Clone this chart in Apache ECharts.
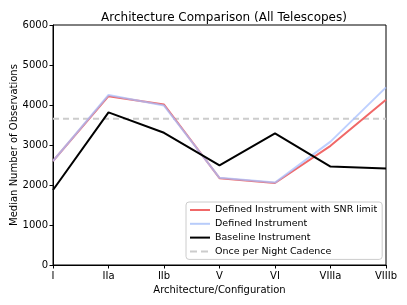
<!DOCTYPE html>
<html><head><meta charset="utf-8">
<script src="https://cdn.jsdelivr.net/npm/echarts@6/dist/echarts.min.js"></script>
<style>html,body{margin:0;padding:0;background:#fff}#c{width:407px;height:305px}</style>
</head><body><div id="c"></div>
<script>
const categories = ['I','IIa','IIb','V','VI','VIIIa','VIIIb'];
const snrLimited = [2600, 4220, 4010, 2170, 2050, 2980, 4130];
const defined = [2600, 4250, 3985, 2180, 2060, 3085, 4440];
const baseline = [1875, 3815, 3305, 2490, 3290, 2460, 2410];
const oncePerNight = 3655;
const yTicks = [0, 1000, 2000, 3000, 4000, 5000, 6000];
const names = ['Defined Instrument with SNR limit','Defined Instrument','Baseline Instrument','Once per Night Cadence'];

const font = 'DejaVu Sans';
const solidIcon = 'path://M0,0L20,0L20,2L0,2Z';
const dashIcon = 'path://M0,0L7,0L7,2L0,2Z M11,0L18,0L18,2L11,2Z M20,0L20,2L20,2Z';
const chart = echarts.init(document.getElementById('c'), null, {renderer:'canvas'});
chart.setOption({
  animation:false,
  title:{text:'Architecture Comparison (All Telescopes)', left:219, top:7, textAlign:'center',
    textStyle:{fontFamily:font, fontSize:12, fontWeight:'normal', color:'#000'}},
  grid:{left:53, right:21, top:25, bottom:40, show:true, borderColor:'#000', borderWidth:1,
    containLabel:false, outerBoundsMode:'none'},
  legend:{
    orient:'vertical', left:186, top:202, itemGap:3.8, itemWidth:20, itemHeight:10,
    padding:[3,5,3,4], backgroundColor:'#fff', borderColor:'#ccc', borderWidth:1, borderRadius:3,
    textStyle:{fontFamily:font, fontSize:9.5, color:'#000'},
    data:names.map((n,i)=>({name:n, icon: i===3 ? dashIcon : solidIcon}))
  },
  xAxis:{type:'category', data:categories, boundaryGap:false,
    name:'Architecture/Configuration', nameLocation:'middle', nameGap:20, nameMoveOverlap:false,
    nameTextStyle:{fontFamily:font, fontSize:10, color:'#000'},
    axisLine:{lineStyle:{color:'#000', width:1}},
    axisTick:{show:true, alignWithLabel:true, length:3.5, lineStyle:{color:'#000'}},
    axisLabel:{fontFamily:font, fontSize:10, color:'#000', margin:6, interval:0},
    splitLine:{show:false}},
  yAxis:{type:'value', min:0, max:6000, interval:1000,
    name:'Median Number of Observations', nameLocation:'middle', nameGap:39, nameMoveOverlap:false,
    nameTextStyle:{fontFamily:font, fontSize:10, color:'#000', verticalAlign:'middle'},
    axisLine:{show:true, lineStyle:{color:'#000', width:1}},
    axisTick:{show:true, length:3.5, lineStyle:{color:'#000'}},
    axisLabel:{fontFamily:font, fontSize:10, color:'#000', margin:5,
      formatter:v=>yTicks.includes(v)?String(v):''},
    splitLine:{show:false}},
  series:[
    {name:names[0], type:'line', data:snrLimited, symbol:'none', lineStyle:{color:'#f06868', width:2}, itemStyle:{color:'#f06868'}, z:2},
    {name:names[1], type:'line', data:defined, symbol:'none', lineStyle:{color:'#a8c0ff', width:2, opacity:0.75}, itemStyle:{color:'#b8ccfa'}, z:3},
    {name:names[2], type:'line', data:baseline, symbol:'none', lineStyle:{color:'#000', width:2}, itemStyle:{color:'#000'}, z:4},
    {name:names[3], type:'line', data:categories.map(()=>oncePerNight), symbol:'none',
      lineStyle:{color:'#cccccc', width:2, type:[6,4]}, itemStyle:{color:'#cccccc'}, z:1}
  ]
});
</script></body></html>
